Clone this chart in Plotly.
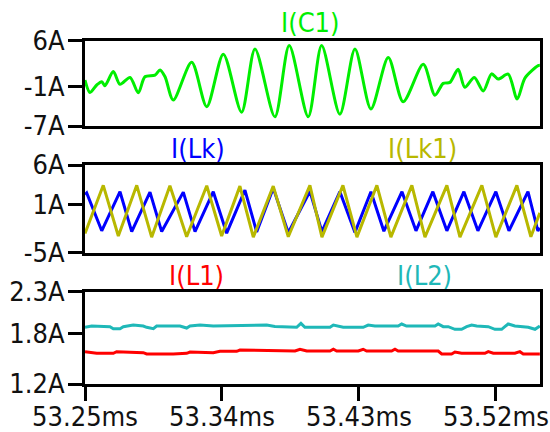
import plotly.graph_objects as go

# ---- data (time in ms, current in A) ----
c1_t = [53.2500, 53.2533, 53.2577, 53.2610, 53.2631, 53.2686, 53.2730, 53.2796, 53.2850, 53.2894,
        53.2960, 53.2993, 53.3026, 53.3080, 53.3201, 53.3300, 53.3409, 53.3529, 53.3617, 53.3748,
        53.3842, 53.3967, 53.4055, 53.4175, 53.4274, 53.4379, 53.4493, 53.4591, 53.4723, 53.4799,
        53.4854, 53.4898, 53.4952, 53.4996, 53.5058, 53.5117, 53.5172, 53.5215, 53.5281, 53.5340,
        53.5391, 53.5478, 53.5489]
c1_v = [0.0, -1.9, -0.75, -0.25, -0.85, 1.3, -0.65, 0.4, -1.95, 0.5,
        0.75, 1.55, 0.5, -3.05, 2.7, -4.05, 3.95, -4.9, 4.75, -5.6,
        5.25, -5.6, 5.25, -5.2, 4.75, -4.4, 3.45, -3.3, 2.4, -2.3,
        -0.5, -0.35, 1.65, -1.1, 0.4, -1.65, 0.95, 0.15, 0.9, -2.9,
        0.3, 2.2, 2.25]

lk_t = [53.2500, 53.2511, 53.2610, 53.2730, 53.2807, 53.2927, 53.3004, 53.3146, 53.3223, 53.3343,
        53.3431, 53.3551, 53.3628, 53.3737, 53.3836, 53.3978, 53.4057, 53.4175, 53.4274, 53.4379,
        53.4464, 53.4583, 53.4675, 53.4786, 53.4878, 53.4990, 53.5082, 53.5200, 53.5286, 53.5411,
        53.5476, 53.5489]
lk_v = [2.3, 2.5, -2.25, 2.65, -2.35, 2.6, -2.35, 2.6, -2.35, 2.65,
        -2.55, 2.85, -2.4, 3.1, -2.5, 2.7, -2.35, 2.65, -2.45, 2.65,
        -2.3, 2.65, -2.25, 2.65, -2.25, 2.65, -2.25, 2.65, -2.25, 2.65,
        -2.25, -1.9]

lk1_t = [53.2500, 53.2620, 53.2719, 53.2840, 53.2938, 53.3058, 53.3168, 53.3300, 53.3398, 53.3518,
         53.3606, 53.3737, 53.3836, 53.3978, 53.4057, 53.4195, 53.4287, 53.4418, 53.4510, 53.4648,
         53.4734, 53.4878, 53.4964, 53.5108, 53.5200, 53.5338, 53.5430, 53.5489]
lk1_v = [-2.6, 3.45, -2.9, 3.45, -3.05, 3.4, -3.0, 3.4, -2.9, 3.35,
         -3.05, 3.35, -3.0, 3.45, -3.05, 3.45, -3.05, 3.45, -3.05, 3.45,
         -3.05, 3.45, -3.05, 3.45, -3.05, 3.45, -3.0, 0.0]

l1_t = [53.2500, 53.2577, 53.2686, 53.2708, 53.2883, 53.2905, 53.3080, 53.3168, 53.3190, 53.3343,
        53.3387, 53.3497, 53.3518, 53.3748, 53.3880, 53.3913, 53.3957, 53.4110, 53.4132, 53.4154,
        53.4296, 53.4328, 53.4351, 53.4515, 53.4537, 53.4558, 53.4821, 53.4844, 53.4909, 53.4931,
        53.4975, 53.5128, 53.5150, 53.5183, 53.5325, 53.5358, 53.5380, 53.5489]
l1_v = [1.585, 1.566, 1.566, 1.585, 1.573, 1.558, 1.558, 1.566, 1.581, 1.573,
        1.590, 1.590, 1.605, 1.593, 1.593, 1.614, 1.593, 1.593, 1.614, 1.593,
        1.593, 1.614, 1.593, 1.593, 1.614, 1.593, 1.593, 1.558, 1.558, 1.581,
        1.566, 1.566, 1.585, 1.566, 1.566, 1.585, 1.558, 1.558]

l2_t = [53.2500, 53.2544, 53.2664, 53.2686, 53.2730, 53.2752, 53.2817, 53.2883, 53.2905, 53.2949,
        53.2971, 53.3124, 53.3168, 53.3190, 53.3256, 53.3343, 53.3694, 53.3748, 53.3891, 53.3919,
        53.3945, 53.4110, 53.4132, 53.4197, 53.4328, 53.4361, 53.4405, 53.4558, 53.4581, 53.4613,
        53.4800, 53.4821, 53.4854, 53.4887, 53.4931, 53.4975, 53.5008, 53.5041, 53.5074, 53.5150,
        53.5194, 53.5238, 53.5259, 53.5281, 53.5325, 53.5413, 53.5457, 53.5489]
l2_v = [1.876, 1.891, 1.883, 1.859, 1.859, 1.883, 1.903, 1.891, 1.876, 1.859,
        1.891, 1.891, 1.867, 1.891, 1.903, 1.891, 1.903, 1.886, 1.876, 1.923,
        1.876, 1.876, 1.903, 1.876, 1.876, 1.903, 1.891, 1.891, 1.915, 1.891,
        1.891, 1.915, 1.883, 1.883, 1.852, 1.852, 1.883, 1.903, 1.891, 1.883,
        1.852, 1.852, 1.883, 1.915, 1.891, 1.876, 1.852, 1.891]

x_range = [53.25, 53.549]
x_ticks = [53.25, 53.34, 53.43, 53.52]
x_labels = ["53.25ms", "53.34ms", "53.43ms", "53.52ms"]

y1_ticks, y1_labels = [6, -1, -7], ["6A", "-1A", "-7A"]
y2_ticks, y2_labels = [6, 1, -5], ["6A", "1A", "-5A"]
y3_ticks, y3_labels = [2.3, 1.8, 1.2], ["2.3A", "1.8A", "1.2A"]

GREEN = "#00ee00"
BLUE = "#0000ff"
OLIVE = "#b8b800"
RED = "#ff0000"
CYAN = "#1fb8b8"

FONT = "DejaVu Sans Condensed, Liberation Sans, sans-serif"
W, H = 550, 432

fig = go.Figure()
fig.add_trace(go.Scatter(x=c1_t, y=c1_v, mode="lines", line=dict(color=GREEN, width=3, shape="spline", smoothing=0.8),
                         xaxis="x", yaxis="y", name="I(C1)"))
fig.add_trace(go.Scatter(x=lk_t, y=lk_v, mode="lines", line=dict(color=BLUE, width=3),
                         xaxis="x2", yaxis="y2", name="I(Lk)"))
fig.add_trace(go.Scatter(x=lk1_t, y=lk1_v, mode="lines", line=dict(color=OLIVE, width=3),
                         xaxis="x2", yaxis="y2", name="I(Lk1)"))
fig.add_trace(go.Scatter(x=l1_t, y=l1_v, mode="lines", line=dict(color=RED, width=3),
                         xaxis="x3", yaxis="y3", name="I(L1)"))
fig.add_trace(go.Scatter(x=l2_t, y=l2_v, mode="lines", line=dict(color=CYAN, width=3),
                         xaxis="x3", yaxis="y3", name="I(L2)"))

xdom = [85 / W, 540 / W]


def ydom(top, bottom):
    return [1 - bottom / H, 1 - top / H]


axis_common = dict(showline=True, linecolor="black", linewidth=3, mirror=True,
                   showgrid=False, zeroline=False, automargin=False)
tickfont = dict(family=FONT, size=27, color="#111111")

fig.update_layout(
    width=W, height=H, margin=dict(l=0, r=0, t=0, b=0, autoexpand=False),
    paper_bgcolor="white", plot_bgcolor="white", showlegend=False,
    xaxis=dict(domain=xdom, range=x_range, anchor="y", showticklabels=False, ticks="", **axis_common),
    xaxis2=dict(domain=xdom, range=x_range, anchor="y2", showticklabels=False, ticks="", **axis_common),
    xaxis3=dict(domain=xdom, range=x_range, anchor="y3", tickmode="array", tickvals=x_ticks,
                ticktext=x_labels, ticks="outside", ticklen=14, tickwidth=3, tickcolor="black",
                ticklabelstandoff=-7, tickfont=tickfont, **axis_common),
    yaxis=dict(domain=ydom(40.7, 126), range=[-7, 6], anchor="x", tickmode="array", tickvals=y1_ticks,
               ticktext=y1_labels, ticks="outside", ticklen=14, tickwidth=3, tickcolor="black",
               ticklabelstandoff=-2, tickfont=tickfont, **axis_common),
    yaxis2=dict(domain=ydom(165, 252.7), range=[-5, 6], anchor="x2", tickmode="array", tickvals=y2_ticks,
                ticktext=y2_labels, ticks="outside", ticklen=14, tickwidth=3, tickcolor="black",
                ticklabelstandoff=-2, tickfont=tickfont, **axis_common),
    yaxis3=dict(domain=ydom(291.7, 384), range=[1.2, 2.3], anchor="x3", tickmode="array", tickvals=y3_ticks,
                ticktext=y3_labels, ticks="outside", ticklen=14, tickwidth=3, tickcolor="black",
                ticklabelstandoff=-2, tickfont=tickfont, **axis_common),
)

titles = [("I(C1)", 310.5, 23, GREEN), ("I(Lk)", 197.5, 148, BLUE), ("I(Lk1)", 422.5, 148, OLIVE),
          ("I(L1)", 196, 275, RED), ("I(L2)", 424, 275, CYAN)]
for txt, px, py, col in titles:
    fig.add_annotation(text=txt, x=px / W, y=1 - py / H, xref="paper", yref="paper",
                       xanchor="center", yanchor="middle", showarrow=False,
                       font=dict(family=FONT, size=27, color=col))

fig.write_html("out.html")
